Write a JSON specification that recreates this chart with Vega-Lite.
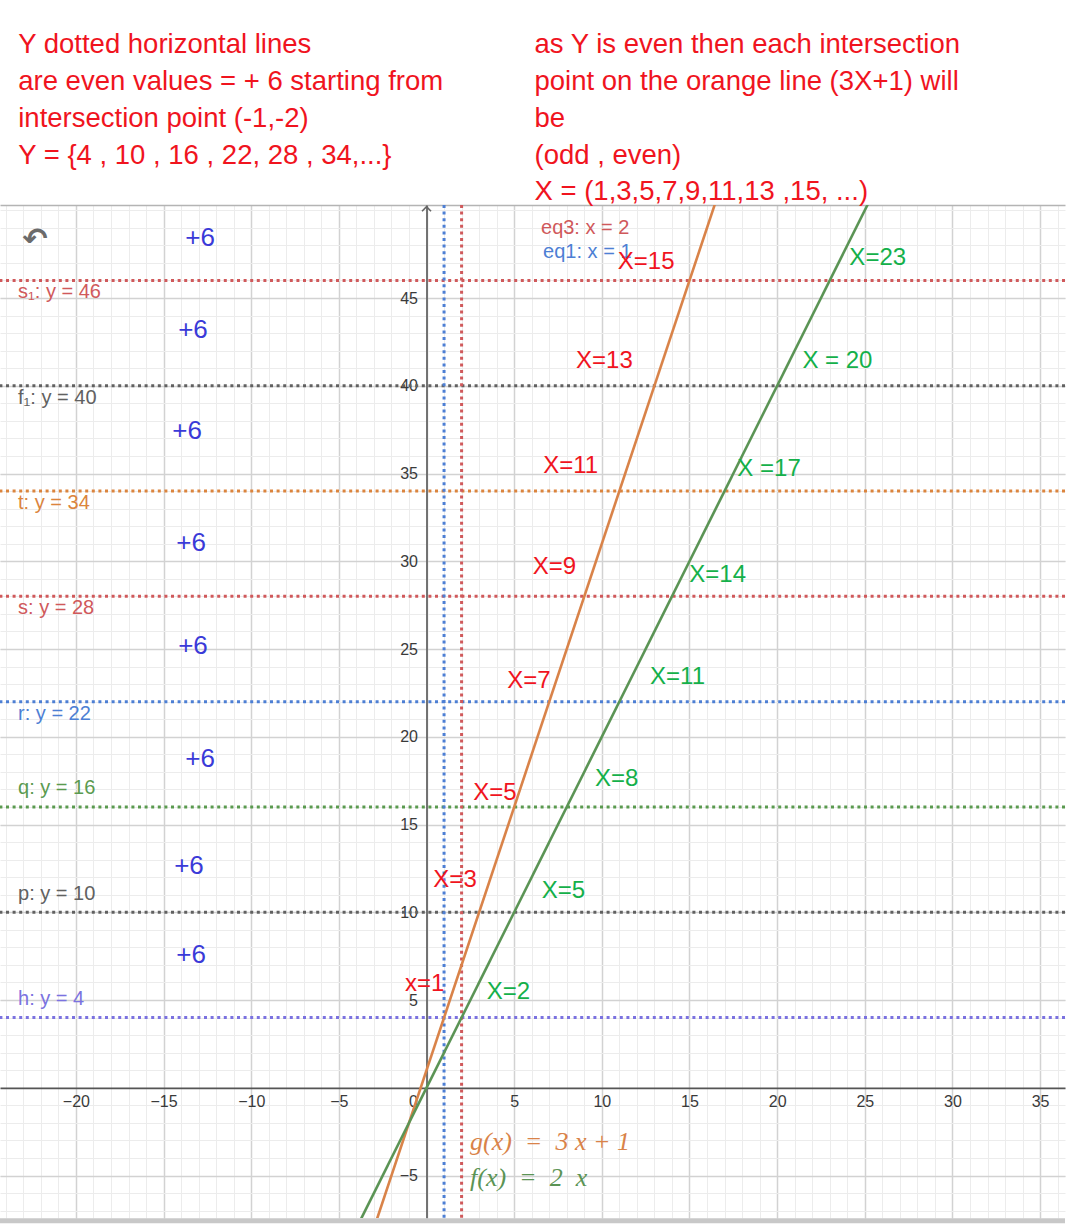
{
  "$schema": "https://vega.github.io/schema/vega-lite/v6.json",
  "width": 1065,
  "height": 1013,
  "autosize": "none",
  "padding": {"left": 0, "top": 205, "right": 6, "bottom": 14},
  "background": "white",
  "config": {"view": {"stroke": null}, "font": "Liberation Sans"},
  "datasets": {
    "fg": [
      {"name": "g", "x": -3, "y": -8},
      {"name": "g", "x": 17.5, "y": 53.5},
      {"name": "f", "x": -4, "y": -8},
      {"name": "f", "x": 26.5, "y": 53}
    ],
    "hl": [
      {"name": "s1", "label": "s₁: y = 46", "val": 46},
      {"name": "f1", "label": "f₁: y = 40", "val": 40},
      {"name": "t", "label": "t: y = 34", "val": 34},
      {"name": "s", "label": "s: y = 28", "val": 28},
      {"name": "r", "label": "r: y = 22", "val": 22},
      {"name": "q", "label": "q: y = 16", "val": 16},
      {"name": "p", "label": "p: y = 10", "val": 10},
      {"name": "h", "label": "h: y = 4", "val": 4}
    ],
    "vl": [
      {"name": "eq3", "label": "eq3: x = 2", "val": 2, "lx": 6.53, "ly": 48.99},
      {"name": "eq1", "label": "eq1: x = 1", "val": 1, "lx": 6.65, "ly": 47.61}
    ],
    "red": [
      {"t": "X=15", "x": 10.91, "y": 46.63},
      {"t": "X=13", "x": 8.53, "y": 40.99},
      {"t": "X=11", "x": 6.66, "y": 35.04},
      {"t": "X=9", "x": 6.06, "y": 29.27},
      {"t": "X=7", "x": 4.61, "y": 22.79},
      {"t": "X=5", "x": 2.67, "y": 16.39},
      {"t": "X=3", "x": 0.39, "y": 11.45},
      {"t": "x=1", "x": -1.23, "y": 5.51}
    ],
    "green": [
      {"t": "X=23", "x": 24.12, "y": 46.88},
      {"t": "X = 20", "x": 21.44, "y": 41.03},
      {"t": "X =17", "x": 17.73, "y": 34.85},
      {"t": "X=14", "x": 14.99, "y": 28.8},
      {"t": "X=11", "x": 12.75, "y": 23.0},
      {"t": "X=8", "x": 9.61, "y": 17.19},
      {"t": "X=5", "x": 6.57, "y": 10.83},
      {"t": "X=2", "x": 3.43, "y": 5.04}
    ],
    "plus": [
      {"t": "+6", "x": -12.92, "y": 48.42},
      {"t": "+6", "x": -13.32, "y": 43.18},
      {"t": "+6", "x": -13.66, "y": 37.42},
      {"t": "+6", "x": -13.43, "y": 31.04},
      {"t": "+6", "x": -13.32, "y": 25.17},
      {"t": "+6", "x": -12.92, "y": 18.73},
      {"t": "+6", "x": -13.55, "y": 12.63},
      {"t": "+6", "x": -13.43, "y": 7.56}
    ],
    "notes": [
      {"t": "Y dotted horizontal lines", "x": -23.29, "y": 58.94},
      {"t": "are even values = + 6 starting from", "x": -23.29, "y": 56.85},
      {"t": "intersection point (-1,-2)", "x": -23.29, "y": 54.76},
      {"t": "Y = {4 , 10 , 16 , 22, 28 , 34,...}", "x": -23.29, "y": 52.66},
      {"t": "as Y is even then each intersection", "x": 6.16, "y": 58.94},
      {"t": "point on the orange line (3X+1) will", "x": 6.16, "y": 56.85},
      {"t": "be", "x": 6.16, "y": 54.76},
      {"t": "(odd , even)", "x": 6.16, "y": 52.66},
      {"t": "X = (1,3,5,7,9,11,13 ,15, ...)", "x": 6.16, "y": 50.6}
    ],
    "formulas": [
      {"name": "g", "t": "g(x)\u00a0\u00a0=\u00a0\u00a03\u00a0x\u00a0+\u00a01", "x": 2.48, "y": -3.09},
      {"name": "f", "t": "f(x)\u00a0\u00a0=\u00a0\u00a02\u00a0\u00a0x", "x": 2.48, "y": -5.15}
    ]
  },
  "resolve": {"axis": {"x": "independent", "y": "independent"}},
  "layer": [
    {
      "data": {"values": [{"x": 0, "y": 0}]},
      "mark": {"type": "point", "opacity": 0},
      "encoding": {
        "x": {"field": "x", "type": "quantitative",
          "scale": {"domain": [-24.33, 36.42], "nice": false, "zero": false},
          "axis": {"orient": "top", "title": null, "labels": false, "ticks": false, "domain": true, "domainColor": "#b4b4b4", "domainWidth": 1.5,
            "grid": true, "gridColor": "#ececec", "gridWidth": 1,
            "values": [-24,-23,-22,-21,-20,-19,-18,-17,-16,-15,-14,-13,-12,-11,-10,-9,-8,-7,-6,-5,-4,-3,-2,-1,0,1,2,3,4,5,6,7,8,9,10,11,12,13,14,15,16,17,18,19,20,21,22,23,24,25,26,27,28,29,30,31,32,33,34,35,36]}},
        "y": {"field": "y", "type": "quantitative",
          "scale": {"domain": [-7.42, 50.3], "nice": false, "zero": false},
          "axis": {"orient": "right", "title": null, "labels": false, "ticks": false, "domain": false,
            "grid": true, "gridColor": "#ececec", "gridWidth": 1,
            "values": [-7,-6,-5,-4,-3,-2,-1,0,1,2,3,4,5,6,7,8,9,10,11,12,13,14,15,16,17,18,19,20,21,22,23,24,25,26,27,28,29,30,31,32,33,34,35,36,37,38,39,40,41,42,43,44,45,46,47,48,49,50]}}
      }
    },
    {
      "data": {"name": "hl"},
      "mark": {"type": "rule", "strokeDash": [3, 3.6], "strokeWidth": 3},
      "encoding": {
        "y": {"field": "val", "type": "quantitative", "axis": null},
        "color": {"field": "name", "type": "nominal", "legend": null,
          "scale": {"domain": ["s1","f1","t","s","r","q","p","h","eq1","eq3","g","f"],
                    "range": ["#d0595b","#616161","#db843d","#d0595b","#4d7fd4","#5a9a4f","#616161","#7b72e0","#4d7fd4","#d0595b","#d98349","#5b9455"]}}
      }
    },
    {
      "data": {"name": "vl"},
      "mark": {"type": "rule", "strokeDash": [3, 3.6], "strokeWidth": 3},
      "encoding": {
        "x": {"field": "val", "type": "quantitative", "axis": null},
        "color": {"field": "name", "type": "nominal", "legend": null}
      }
    },
    {
      "data": {"name": "fg"},
      "mark": {"type": "line", "clip": true, "strokeWidth": 2.6},
      "encoding": {
        "x": {"field": "x", "type": "quantitative",
          "axis": {"orient": "bottom", "offset": -130.2, "title": null, "ticks": false,
            "domainColor": "#555555", "domainWidth": 1.8,
            "grid": true, "gridColor": "#d2d2d2", "gridWidth": 1.5,
            "values": [-20,-15,-10,-5,0,5,10,15,20,25,30,35],
            "labelFontSize": 16, "labelColor": "#3a3a3a", "labelPadding": 6,
            "labelFlush": false, "labelOverlap": false, "labelBound": false,
            "labelAlign": {"condition": {"test": "datum.value === 0", "value": "right"}, "value": "center"},
            "labelOffset": {"condition": {"test": "datum.value === 0", "value": -9}, "value": 0}}},
        "y": {"field": "y", "type": "quantitative",
          "axis": {"orient": "left", "offset": -426.5, "title": null, "ticks": false,
            "domainColor": "#666666", "domainWidth": 1.8,
            "grid": true, "gridColor": "#d2d2d2", "gridWidth": 1.5,
            "values": [-5,5,10,15,20,25,30,35,40,45],
            "labelFontSize": 16, "labelColor": "#3a3a3a", "labelPadding": 9,
            "labelOverlap": false, "labelBound": false, "labelFlush": false}},
        "color": {"field": "name", "type": "nominal", "legend": null}
      }
    },
    {
      "data": {"name": "hl"},
      "transform": [{"filter": "datum.val >= 22"}],
      "mark": {"type": "text", "align": "left", "baseline": "middle", "dy": 12, "fontSize": 20},
      "encoding": {
        "x": {"datum": -23.3, "type": "quantitative", "axis": null},
        "y": {"field": "val", "type": "quantitative", "axis": null},
        "text": {"field": "label"},
        "color": {"field": "name", "type": "nominal", "legend": null}
      }
    },
    {
      "data": {"name": "hl"},
      "transform": [{"filter": "datum.val < 22"}],
      "mark": {"type": "text", "align": "left", "baseline": "middle", "dy": -18.5, "fontSize": 20},
      "encoding": {
        "x": {"datum": -23.3, "type": "quantitative", "axis": null},
        "y": {"field": "val", "type": "quantitative", "axis": null},
        "text": {"field": "label"},
        "color": {"field": "name", "type": "nominal", "legend": null}
      }
    },
    {
      "data": {"name": "vl"},
      "mark": {"type": "text", "align": "left", "baseline": "middle", "fontSize": 20},
      "encoding": {
        "x": {"field": "lx", "type": "quantitative", "axis": null},
        "y": {"field": "ly", "type": "quantitative", "axis": null},
        "text": {"field": "label"},
        "color": {"field": "name", "type": "nominal", "legend": null}
      }
    },
    {
      "data": {"name": "red"},
      "mark": {"type": "text", "align": "left", "baseline": "alphabetic", "fontSize": 24, "color": "#f0141e"},
      "encoding": {
        "x": {"field": "x", "type": "quantitative", "axis": null},
        "y": {"field": "y", "type": "quantitative", "axis": null},
        "text": {"field": "t"}
      }
    },
    {
      "data": {"name": "green"},
      "mark": {"type": "text", "align": "left", "baseline": "alphabetic", "fontSize": 24, "color": "#14b04a"},
      "encoding": {
        "x": {"field": "x", "type": "quantitative", "axis": null},
        "y": {"field": "y", "type": "quantitative", "axis": null},
        "text": {"field": "t"}
      }
    },
    {
      "data": {"name": "plus"},
      "mark": {"type": "text", "align": "center", "baseline": "middle", "fontSize": 26, "color": "#3a3ad8"},
      "encoding": {
        "x": {"field": "x", "type": "quantitative", "axis": null},
        "y": {"field": "y", "type": "quantitative", "axis": null},
        "text": {"field": "t"}
      }
    },
    {
      "data": {"name": "notes"},
      "mark": {"type": "text", "align": "left", "baseline": "alphabetic", "fontSize": 27.5, "color": "#f0141e"},
      "encoding": {
        "x": {"field": "x", "type": "quantitative", "axis": null},
        "y": {"field": "y", "type": "quantitative", "axis": null},
        "text": {"field": "t"}
      }
    },
    {
      "data": {"name": "formulas"},
      "mark": {"type": "text", "align": "left", "baseline": "middle", "fontSize": 26, "font": "Liberation Serif", "fontStyle": "italic"},
      "encoding": {
        "x": {"field": "x", "type": "quantitative", "axis": null},
        "y": {"field": "y", "type": "quantitative", "axis": null},
        "text": {"field": "t"},
        "color": {"field": "name", "type": "nominal", "legend": null}
      }
    },
    {
      "data": {"values": [{}]},
      "mark": {"type": "text", "text": "↶", "font": "DejaVu Sans", "fontSize": 30, "fontWeight": "bold", "color": "#6b6b6b", "align": "center", "baseline": "middle"},
      "encoding": {
        "x": {"datum": -22.33, "type": "quantitative", "axis": null},
        "y": {"datum": 48.3, "type": "quantitative", "axis": null}
      }
    },
    {
      "data": {"values": [{}]},
      "mark": {"type": "point", "shape": "M-1,1L0,0L1,1", "size": 81, "filled": false, "stroke": "#666666", "strokeWidth": 1.6, "opacity": 1},
      "encoding": {
        "x": {"datum": 0, "type": "quantitative", "axis": null},
        "y": {"datum": 50.2, "type": "quantitative", "axis": null}
      }
    },
    {
      "data": {"values": [{}]},
      "mark": {"type": "rule", "color": "#c8c8c8", "strokeWidth": 5},
      "encoding": {
        "y": {"datum": -7.58, "type": "quantitative", "axis": null}
      }
    }
  ]
}
